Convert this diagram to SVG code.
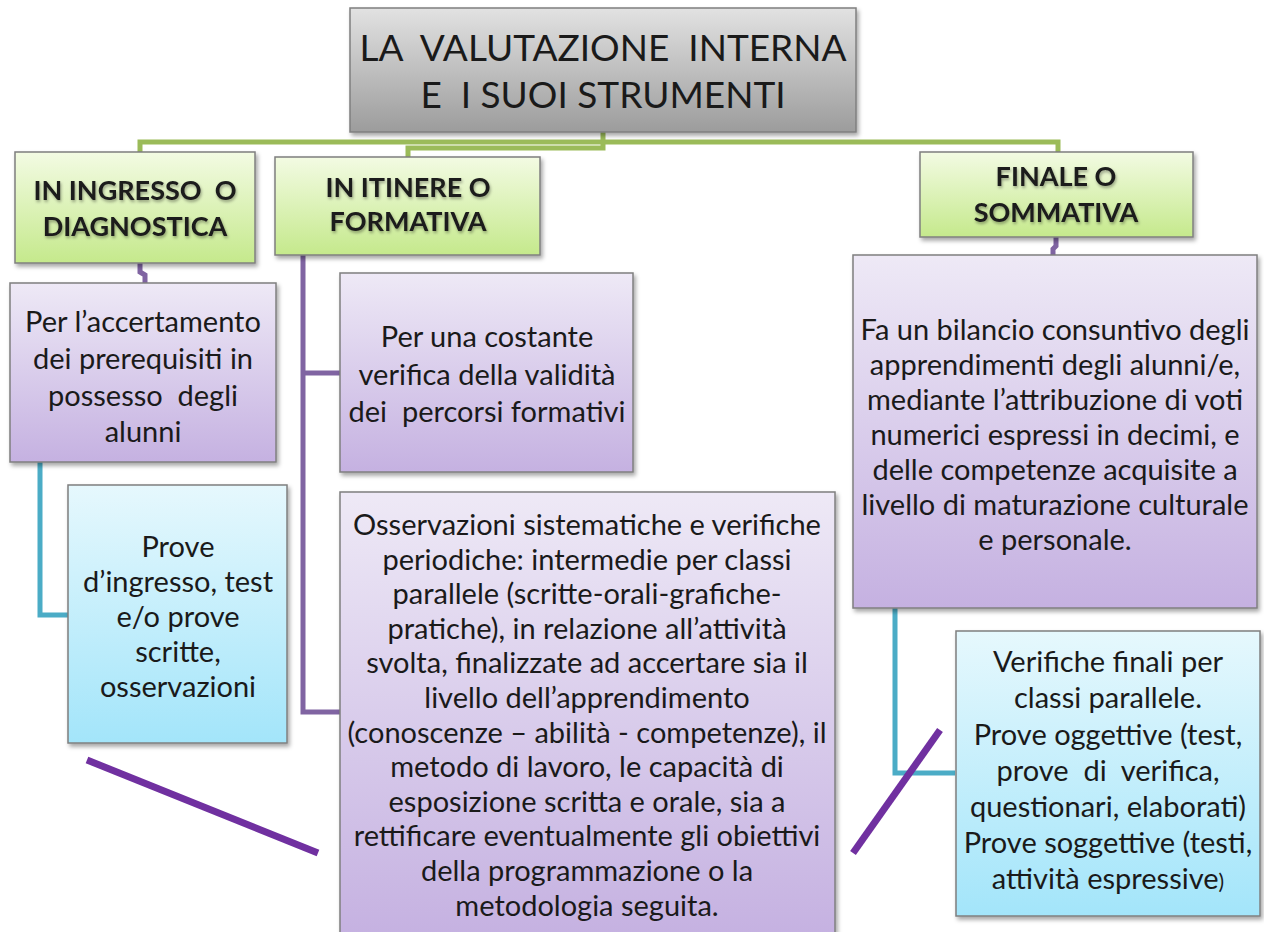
<svg xmlns="http://www.w3.org/2000/svg" width="1264" height="932" viewBox="0 0 1264 932" xml:space="preserve">
<defs>
<linearGradient id="gGray" x1="0" y1="0" x2="0" y2="1"><stop offset="0" stop-color="#e2e2e2"/><stop offset="1" stop-color="#9c9c9c"/></linearGradient>
<linearGradient id="gGreen" x1="0" y1="0" x2="0" y2="1"><stop offset="0" stop-color="#f3fbe3"/><stop offset="1" stop-color="#c5e98c"/></linearGradient>
<linearGradient id="gPurple" x1="0" y1="0" x2="0" y2="1"><stop offset="0" stop-color="#eee9f6"/><stop offset="1" stop-color="#c5b1e1"/></linearGradient>
<linearGradient id="gBlue" x1="0" y1="0" x2="0" y2="1"><stop offset="0" stop-color="#e6f8fd"/><stop offset="1" stop-color="#a3e5fa"/></linearGradient>
<filter id="shadow" x="-10%" y="-10%" width="120%" height="125%"><feDropShadow dx="2" dy="3" stdDeviation="2" flood-color="#000" flood-opacity="0.35"/></filter>
<filter id="tshadow" x="-10%" y="-20%" width="120%" height="150%"><feDropShadow dx="1" dy="2" stdDeviation="1.5" flood-color="#000" flood-opacity="0.35"/></filter>
</defs>
<style>
.box{stroke:#7f7f7f;stroke-width:1.5;filter:url(#shadow)}
.t{font-family:Lato,"Liberation Sans",sans-serif;fill:#1a1a1a;text-anchor:middle;white-space:pre}
.title{font-size:37px}
.hd{font-size:27px;font-weight:bold;filter:url(#tshadow)}
.body{font-size:29px}
.green{fill:none;stroke:#9bbb59;stroke-width:5}
.purp{fill:none;stroke:#8064a2;stroke-width:5}
.teal{fill:none;stroke:#4bacc6;stroke-width:5}
.slash{fill:none;stroke:#7030a0;stroke-width:7}
</style>
<g id="connectors">
<path class="green" d="M603,132 V148 H408 V157"/>
<path class="green" d="M140,152 V142 H1058 V152"/>
<path class="purp" d="M140,263 V272 L145,275 V283"/>
<path class="purp" d="M1056,237 V246 L1053,249 V255"/>
<path class="purp" d="M303,255 V712 H340 M303,373 H340"/>
<path class="teal" d="M40,462 V615 H68"/>
<path class="teal" d="M895,608 V773 H955"/>
</g>
<g id="title">
<rect class="box" x="350" y="8" width="506" height="124" fill="url(#gGray)"/>
<text class="t title" x="603" y="61">LA  VALUTAZIONE  INTERNA</text>
<text class="t title" x="603" y="108">E  I SUOI STRUMENTI</text>
</g>
<g id="ingresso">
<rect class="box" x="15" y="152" width="240" height="111" fill="url(#gGreen)"/>
<text class="t hd" x="135" y="200">IN INGRESSO  O</text>
<text class="t hd" x="135" y="236">DIAGNOSTICA</text>
</g>
<g id="itinere">
<rect class="box" x="275" y="157" width="265" height="98" fill="url(#gGreen)"/>
<text class="t hd" x="408" y="197">IN ITINERE O</text>
<text class="t hd" x="408" y="231">FORMATIVA</text>
</g>
<g id="finale">
<rect class="box" x="920" y="152" width="273" height="85" fill="url(#gGreen)"/>
<text class="t hd" x="1056" y="186">FINALE O</text>
<text class="t hd" x="1056" y="222">SOMMATIVA</text>
</g>
<g id="accertamento">
<rect class="box" x="10" y="283" width="266" height="179" fill="url(#gPurple)"/>
<text class="t body" x="143" y="332">Per l’accertamento</text>
<text class="t body" x="143" y="369">dei prerequisiti in</text>
<text class="t body" x="143" y="406">possesso  degli</text>
<text class="t body" x="143" y="442">alunni</text>
</g>
<g id="prove-ingresso">
<rect class="box" x="68" y="485" width="219" height="258" fill="url(#gBlue)"/>
<text class="t body" x="178" y="557">Prove</text>
<text class="t body" x="178" y="592">d’ingresso, test</text>
<text class="t body" x="178" y="627">e/o prove</text>
<text class="t body" x="178" y="662">scritte,</text>
<text class="t body" x="178" y="697">osservazioni</text>
</g>
<g id="costante">
<rect class="box" x="340" y="273" width="293" height="199" fill="url(#gPurple)"/>
<text class="t body" x="487" y="347">Per una costante</text>
<text class="t body" x="487" y="385">verifica della validità</text>
<text class="t body" x="487" y="422">dei  percorsi formativi</text>
</g>
<g id="osservazioni">
<rect class="box" x="340" y="492" width="495" height="445" fill="url(#gPurple)"/>
<text class="t body" x="587" y="535">Osservazioni sistematiche e verifiche</text>
<text class="t body" x="587" y="569.6">periodiche: intermedie per classi</text>
<text class="t body" x="587" y="604.2">parallele (scritte-orali-grafiche-</text>
<text class="t body" x="587" y="638.8">pratiche), in relazione all’attività</text>
<text class="t body" x="587" y="673.4">svolta, finalizzate ad accertare sia il</text>
<text class="t body" x="587" y="708">livello dell’apprendimento</text>
<text class="t body" x="587" y="742.6">(conoscenze – abilità - competenze), il</text>
<text class="t body" x="587" y="777.2">metodo di lavoro, le capacità di</text>
<text class="t body" x="587" y="811.8">esposizione scritta e orale, sia a</text>
<text class="t body" x="587" y="846.4">rettificare eventualmente gli obiettivi</text>
<text class="t body" x="587" y="881">della programmazione o la</text>
<text class="t body" x="587" y="915.6">metodologia seguita.</text>
</g>
<g id="bilancio">
<rect class="box" x="853" y="255" width="404" height="353" fill="url(#gPurple)"/>
<text class="t body" x="1055" y="340">Fa un bilancio consuntivo degli</text>
<text class="t body" x="1055" y="375">apprendimenti degli alunni/e,</text>
<text class="t body" x="1055" y="410">mediante l’attribuzione di voti</text>
<text class="t body" x="1055" y="445">numerici espressi in decimi, e</text>
<text class="t body" x="1055" y="480">delle competenze acquisite a</text>
<text class="t body" x="1055" y="515">livello di maturazione culturale</text>
<text class="t body" x="1055" y="550">e personale.</text>
</g>
<g id="verifiche-finali">
<rect class="box" x="956" y="631" width="304" height="285" fill="url(#gBlue)"/>
<text class="t body" x="1108" y="672">Verifiche finali per</text>
<text class="t body" x="1108" y="708">classi parallele.</text>
<text class="t body" x="1108" y="745">Prove oggettive (test,</text>
<text class="t body" x="1108" y="781">prove  di  verifica,</text>
<text class="t body" x="1108" y="817">questionari, elaborati)</text>
<text class="t body" x="1108" y="853">Prove soggettive (testi,</text>
<text class="t body" x="1108" y="889">attività espressive<tspan font-size="21px">)</tspan></text>
</g>
<g id="slashes">
<path class="slash" d="M87,760 L318,853"/>
<path class="slash" d="M940,730 L853,853"/>
</g>
</svg>
